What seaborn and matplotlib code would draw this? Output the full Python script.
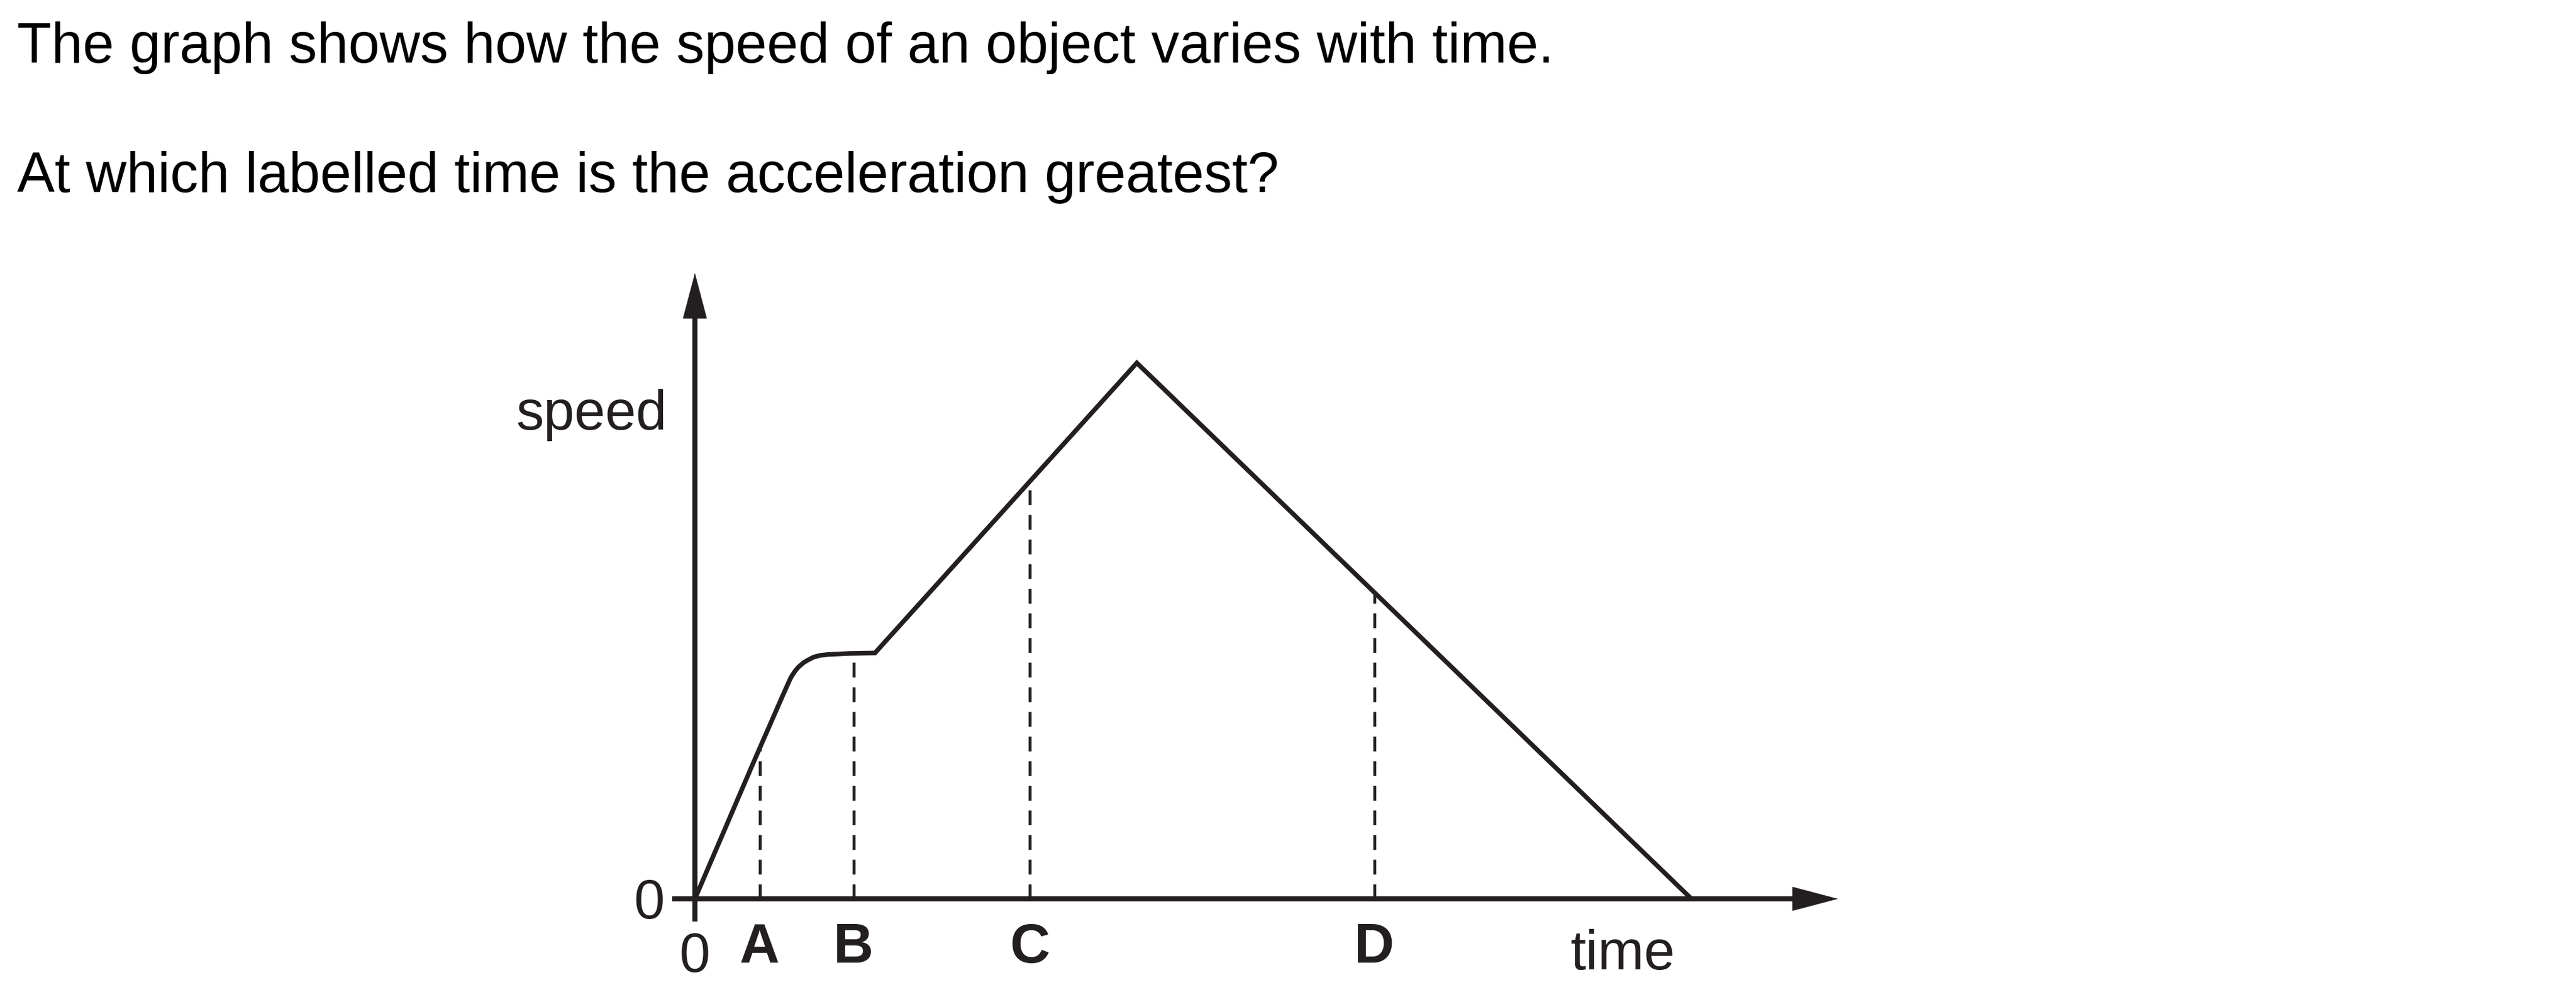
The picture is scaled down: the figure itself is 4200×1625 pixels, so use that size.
import matplotlib
matplotlib.use('Agg')
import matplotlib.pyplot as plt
import seaborn as sns
import pandas as pd

# speed-time curve (arbitrary units)
time_pts = [0, 35.0, 43.7, 52.4, 57.4, 58.6, 61.1, 63.0, 66.1, 68.6, 72.3, 76.0, 81.0, 93.5, 109.6, 269.0, 606.6]
speed_pts = [0, 81.5, 101.4, 121.3, 132.5, 135.0, 138.8, 141.0, 143.7, 145.2, 147.1, 148.1, 148.7, 149.3, 149.6, 326.1, 0]

# labelled times and the speed where each dashed line meets the curve
mark_names = ['A', 'B', 'C', 'D']
mark_times = [39.5, 96.6, 203.7, 413.5]
mark_speeds = [91.5, 149.5, 253.0, 185.0]

question = ['The graph shows how the speed of an object varies with time.',
            'At which labelled time is the acceleration greatest?']

ink = '#231f20'

sns.set_theme(style='white')
plt.rcParams['font.family'] = ['Liberation Sans', 'DejaVu Sans']

W, H = 4200, 1625
K = 4200 / 1568          # pixels per data unit
OX, OY = 1133, 1465      # origin in pixels
x0, x1 = -45, 720
y0, y1 = -50, 400

fig = plt.figure(figsize=(W / 100, H / 100), dpi=100)
fig.patch.set_facecolor('white')
ax = fig.add_axes([(OX + x0 * K) / W, (H - (OY - y0 * K)) / H,
                   (x1 - x0) * K / W, (y1 - y0) * K / H])
ax.set_xlim(x0, x1)
ax.set_ylim(y0, y1)
ax.set_axis_off()

# axes with arrows
ax.plot([0, 0], [-13.7, 360], color=ink, lw=6.0, solid_capstyle='butt')
ax.plot([-14, 672], [0, 0], color=ink, lw=6.0, solid_capstyle='butt')
head = dict(arrowstyle='-|>,head_length=52.3,head_width=13.8', mutation_scale=1,
            color=ink, lw=0.5, shrinkA=0, shrinkB=0)
ax.annotate('', xy=(0, 380.8), xytext=(0, -55), textcoords='offset points', arrowprops=head)
ax.annotate('', xy=(695.8, 0), xytext=(-55, 0), textcoords='offset points', arrowprops=head)

# dashed guide lines
ax.vlines(mark_times, 0, mark_speeds, colors=ink, lw=3.4, linestyles=[(0, (5.1, 3.4))])

# the curve
df = pd.DataFrame({'time': time_pts, 'speed': speed_pts})
sns.lineplot(data=df, x='time', y='speed', sort=False, estimator=None, color=ink,
             lw=5.4, ax=ax, solid_joinstyle='miter', solid_capstyle='butt')
ax.set_axis_off()

# labels
fs = 65
ax.text(-17, 285.6, 'speed', ha='right', va='baseline', fontsize=fs, color=ink)
ax.text(-18.3, -11.9, '0', ha='right', va='baseline', fontsize=fs, color=ink)
ax.text(0, -44.4, '0', ha='center', va='baseline', fontsize=fs, color=ink)
for name, t in zip(mark_names, mark_times):
    ax.text(t, -38.8, name, ha='center', va='baseline', fontsize=fs,
            fontweight='bold', color=ink)
ax.text(533, -42.9, 'time', ha='left', va='baseline', fontsize=fs, color=ink)

# question text
fig.text(28 / W, 1 - 101.7 / H, question[0], ha='left', va='baseline', fontsize=66, color='black')
fig.text(28 / W, 1 - 313 / H, question[1], ha='left', va='baseline', fontsize=66, color='black')

fig.savefig('out.png', dpi=100, facecolor='white')
